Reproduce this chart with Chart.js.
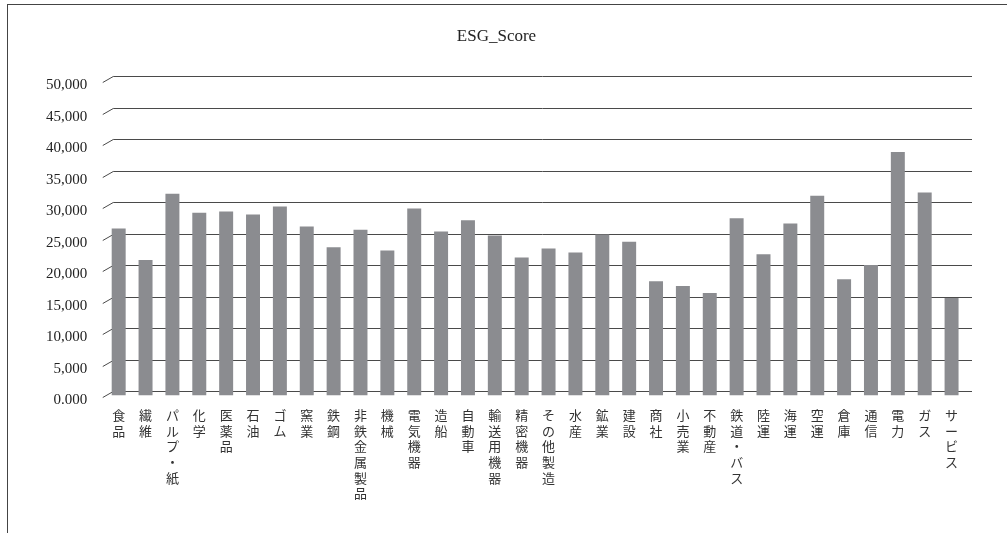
<!DOCTYPE html>
<html>
<head>
<meta charset="utf-8">
<script src="https://cdn.jsdelivr.net/npm/chart.js@4/dist/chart.umd.min.js"></script>
<style>
  body { margin: 0; background: #fff; }
  #wrap { position: relative; width: 1007px; height: 533px; overflow: hidden; }
  #frame { position: absolute; left: 7px; top: 4px; width: 1100px; height: 600px;
           border-left: 1px solid #444; border-top: 1px solid #444; }
  canvas { position: absolute; left: 0; top: 0; }
</style>
</head>
<body>
<div id="wrap">
  <div id="frame"></div>
  <canvas id="plotarea" width="1007" height="533"></canvas>
</div>
<script>
// industries (x axis)
const categories = [
  '食品', '繊維', 'パルプ・紙', '化学', '医薬品', '石油', 'ゴム', '窯業', '鉄鋼',
  '非鉄金属製品', '機械', '電気機器', '造船', '自動車', '輸送用機器', '精密機器',
  'その他製造', '水産', '鉱業', '建設', '商社', '小売業', '不動産', '鉄道・バス',
  '陸運', '海運', '空運', '倉庫', '通信', '電力', 'ガス', 'サービス'
];

// ESG score per industry
const esgScore = [
  26500, 21500, 32000, 29000, 29200, 28700, 30000, 26800, 23500,
  26300, 23000, 29650, 26000, 27800, 25400, 21900,
  23300, 22700, 25550, 24400, 18100, 17350, 16250, 28100,
  22400, 27300, 31700, 18450, 20700, 38650, 32200, 15450
];

// y axis
const yMin = 0;
const yMax = 50000;
const yStep = 5000;

function fmtTick(v) {
  if (v === 0) return '0.000';
  return v.toLocaleString('en-US');
}

// gridlines on the back wall, with the little slanted lead-in like the 3D excel chart
const wallGrid = {
  id: 'wallGrid',
  beforeDatasetsDraw(chart) {
    const { ctx, chartArea } = chart;
    const y = chart.scales.y;
    ctx.save();
    ctx.strokeStyle = '#4a4a4a';
    ctx.lineWidth = 1;
    y.ticks.forEach((t, i) => {
      const py = Math.round(y.getPixelForTick(i)) + 0.5;
      ctx.beginPath();
      ctx.moveTo(chartArea.left - 2.5, py + 2);
      ctx.lineTo(chartArea.left + 8, py - 4);
      ctx.lineTo(chartArea.right + 7, py - 4);
      ctx.stroke();
    });
    ctx.restore();
  }
};

const config = {
  type: 'bar',
  data: {
    labels: categories.map(s => Array.from(s)),
    datasets: [
      {
        label: 'ESG_Score',
        backgroundColor: '#8b8c90',
        borderWidth: 0,
        barPercentage: 0.52,
        categoryPercentage: 1.0,
        data: esgScore
      }
    ]
  },
  options: {
    responsive: false,
    animation: false,
    layout: {
      padding: { left: 28, right: 42, top: 0, bottom: 20 }
    },
    plugins: {
      legend: { display: false },
      tooltip: { enabled: false },
      title: {
        display: true,
        text: 'ESG_Score',
        color: '#222',
        font: { family: 'Liberation Serif', size: 17, weight: 'normal' },
        padding: { top: 26, bottom: 34 }
      }
    },
    scales: {
      x: {
        grid: { display: false, drawTicks: false },
        border: { display: false },
        ticks: {
          autoSkip: false,
          maxRotation: 0,
          minRotation: 0,
          padding: 12,
          color: '#333',
          font: { family: 'Noto Sans CJK JP', size: 13, lineHeight: 1.2 }
        }
      },
      y: {
        min: yMin,
        max: yMax,
        grid: { display: false, drawTicks: false },
        border: { display: false },
        ticks: {
          stepSize: yStep,
          padding: 18,
          labelOffset: 5,
          color: '#222',
          font: { family: 'Liberation Serif', size: 15 },
          callback: v => fmtTick(v)
        }
      }
    }
  },
  plugins: [wallGrid]
};

const myChart = new Chart(document.getElementById('plotarea'), config);
</script>
</body>
</html>
